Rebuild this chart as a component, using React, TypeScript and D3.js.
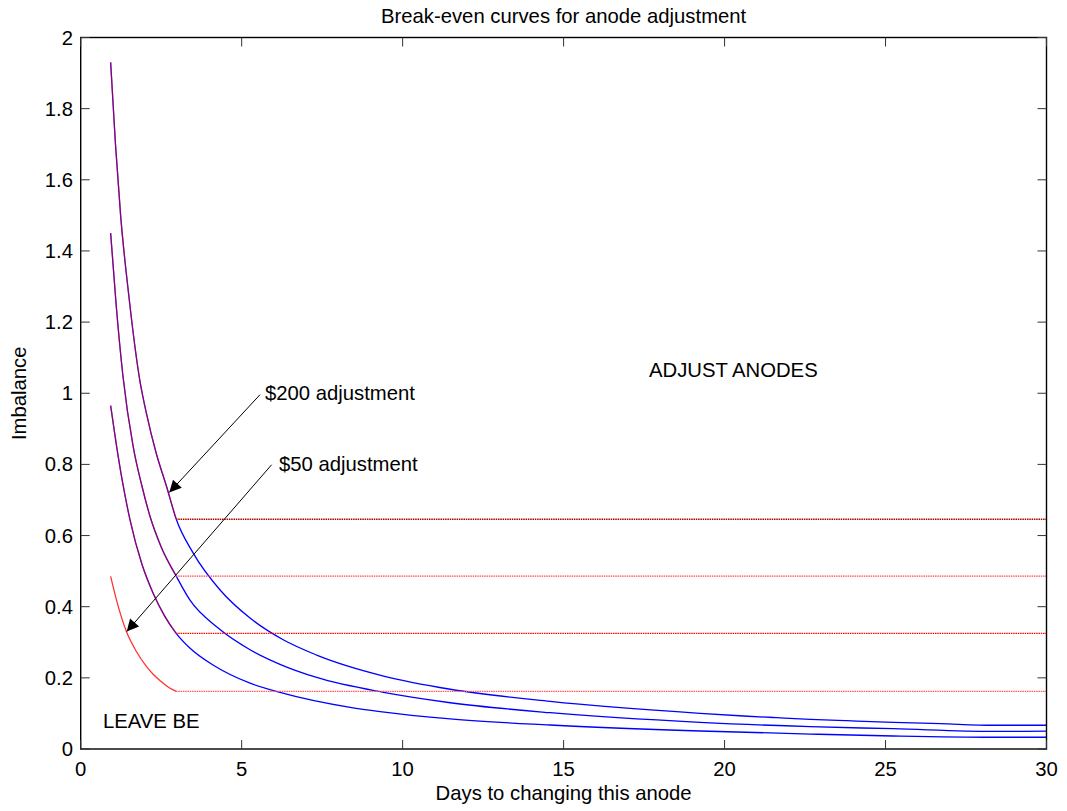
import React from 'react';
import * as d3 from 'd3';

// values: [days, imbalance]
const redTop = [[0.93, 1.93], [1.08, 1.7], [1.24, 1.5], [1.5, 1.27], [1.83, 1.04], [2.04, 0.944], [2.35, 0.83], [2.66, 0.74], [2.96, 0.648]];
const redMid = [[0.93, 1.45], [1.1, 1.25], [1.31, 1.05], [1.63, 0.85], [1.9, 0.74], [2.15, 0.655], [2.5, 0.568], [2.96, 0.487]];
const redLow = [[0.93, 0.965], [1.1, 0.86], [1.3, 0.75], [1.53, 0.645], [1.9, 0.52], [2.25, 0.438], [2.6, 0.375], [2.96, 0.326]];
const redBottom = [[0.93, 0.485], [1.11, 0.419], [1.42, 0.33], [1.73, 0.274], [2.04, 0.232], [2.25, 0.21], [2.51, 0.189], [2.75, 0.172], [2.97, 0.162]];

const blueTopTail = [[3.5, 0.55], [4.33, 0.447], [5.26, 0.368], [6.29, 0.307], [7.33, 0.264], [9.41, 0.205], [11.48, 0.168], [14.58, 0.134], [19.24, 0.1004], [20.59, 0.0928], [21.62, 0.088], [22.66, 0.0835], [23.8, 0.0796], [25.25, 0.075], [26.7, 0.0712], [28.35, 0.0667], [30, 0.0667]];
const blueMidTail = [[3.39, 0.419], [4.27, 0.34], [5.26, 0.279], [6.19, 0.238], [7.33, 0.201], [9.41, 0.159], [11.48, 0.13], [14.58, 0.102], [19.24, 0.075], [22.66, 0.0628], [25.25, 0.057], [28.35, 0.0497], [30, 0.05]];
const blueLowTail = [[3.39, 0.284], [4.11, 0.236], [5.26, 0.185], [6.19, 0.159], [8.37, 0.117], [9.3, 0.105], [11.48, 0.0845], [14.58, 0.0675], [19.24, 0.0506], [22.66, 0.042], [25.24, 0.0366], [28.35, 0.033], [30, 0.033]];

// break-even levels (horizontal dotted lines)
const levels = [0.646, 0.486, 0.325, 0.162];
const levelStart = 2.96;
const levelColors = ['#b00000', '#ff4a4a', '#ff0000', '#ff5a5a'];

const xTicks = [0, 5, 10, 15, 20, 25, 30];
const yTicks = [0, 0.2, 0.4, 0.6, 0.8, 1, 1.2, 1.4, 1.6, 1.8, 2];

const W = 1067;
const H = 811;
const left = 80.7;
const right = 1046.5;
const top = 37.5;
const bottom = 749;
const font = '"Liberation Sans", Arial, sans-serif';
const fs = 20.3;

export default function App() {
  const x = d3.scaleLinear().domain([0, 30]).range([left, right]);
  const y = d3.scaleLinear().domain([0, 2]).range([bottom, top]);
  const line = d3.line<number[]>().x(d => x(d[0])).y(d => y(d[1])).curve(d3.curveMonotoneX);

  const blues = [
    [...redTop, ...blueTopTail],
    [...redMid, ...blueMidTail],
    [...redLow, ...blueLowTail],
  ];
  const reds = [redTop, redMid, redLow, redBottom];

  // annotation arrows, in data coordinates
  const arrows = [
    { from: [5.57, 0.996], to: [2.75, 0.721] },
    { from: [5.93, 0.799], to: [1.43, 0.33] },
  ];

  return (
    <svg width={W} height={H} style={{ position: 'absolute', left: 0, top: 0, background: '#fff' }}>
      <defs>
        <marker id="head" viewBox="0 0 10 10" refX="10" refY="5" markerWidth="16" markerHeight="12" markerUnits="userSpaceOnUse" orient="auto">
          <path d="M0,0 L10,5 L0,10 z" fill="#000" />
        </marker>
      </defs>

      {/* blue curves */}
      {blues.map((d, i) => (
        <path key={'b' + i} d={line(d) || ''} fill="none" stroke="#0000ff" strokeWidth={1.3} />
      ))}
      {/* red curves, over blue to give the purple overlap */}
      {reds.map((d, i) => (
        <path key={'r' + i} d={line(d) || ''} fill="none" stroke="#ff0000" strokeWidth={1.3} strokeOpacity={i < 3 ? 0.55 : 0.8} />
      ))}
      {levels.map((l, i) => (
        <line key={'l' + i} x1={x(levelStart)} x2={x(30)} y1={y(l)} y2={y(l)} stroke={levelColors[i]} strokeWidth={1.4} strokeDasharray="1.5,0.8" />
      ))}

      {arrows.map((a, i) => (
        <line key={'a' + i} x1={x(a.from[0])} y1={y(a.from[1])} x2={x(a.to[0])} y2={y(a.to[1])} stroke="#000" strokeWidth={1} markerEnd="url(#head)" />
      ))}

      {/* axes box */}
      <rect x={left} y={top} width={right - left} height={bottom - top} fill="none" stroke="#000" strokeWidth={1.4} />
      {xTicks.map(t => (
        <g key={'xt' + t}>
          <line x1={x(t)} x2={x(t)} y1={bottom} y2={bottom - 9} stroke="#333" />
          <line x1={x(t)} x2={x(t)} y1={top} y2={top + 9} stroke="#333" />
          <text x={x(t)} y={bottom + 27} textAnchor="middle" fontFamily={font} fontSize={fs}>{t}</text>
        </g>
      ))}
      {yTicks.map(t => (
        <g key={'yt' + t}>
          <line x1={left} x2={left + 9} y1={y(t)} y2={y(t)} stroke="#333" />
          <line x1={right} x2={right - 9} y1={y(t)} y2={y(t)} stroke="#333" />
          <text x={73} y={y(t) + 7} textAnchor="end" fontFamily={font} fontSize={fs}>{d3.format('~g')(t)}</text>
        </g>
      ))}

      <text x={(left + right) / 2} y={23} textAnchor="middle" fontFamily={font} fontSize={fs}>Break-even curves for anode adjustment</text>
      <text x={(left + right) / 2} y={800} textAnchor="middle" fontFamily={font} fontSize={fs}>Days to changing this anode</text>
      <text transform={`translate(26,${(top + bottom) / 2}) rotate(-90)`} textAnchor="middle" fontFamily={font} fontSize={fs}>Imbalance</text>

      <text x={265} y={400} fontFamily={font} fontSize={fs}>$200 adjustment</text>
      <text x={279} y={470.5} fontFamily={font} fontSize={fs}>$50 adjustment</text>
      <text x={649} y={376.5} fontFamily={font} fontSize={fs}>ADJUST ANODES</text>
      <text x={103} y={727.5} fontFamily={font} fontSize={fs}>LEAVE BE</text>
    </svg>
  );
}
